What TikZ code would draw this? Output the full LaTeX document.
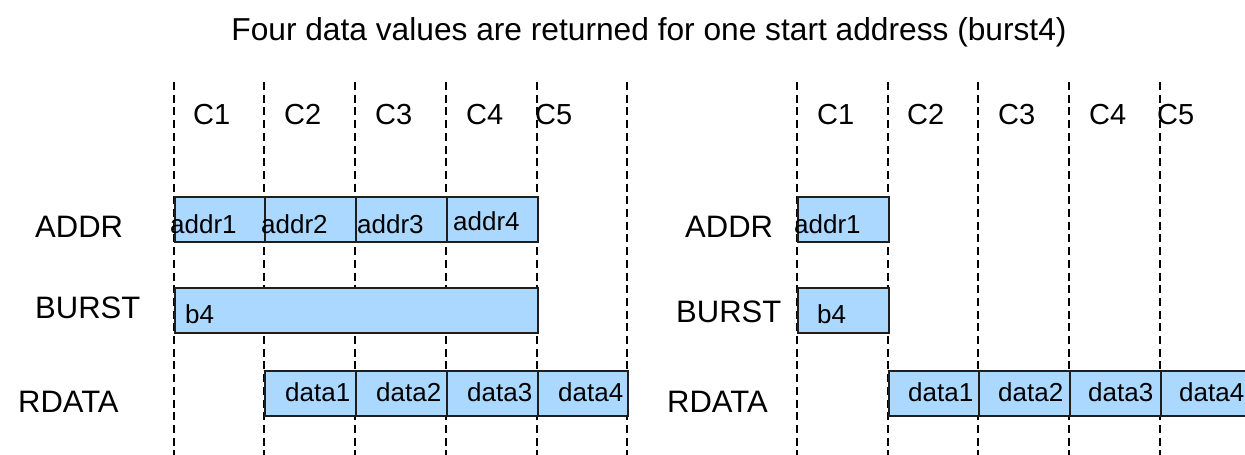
\documentclass[tikz,border=0pt]{standalone}
\usepackage{fontspec}
\setmainfont{Liberation Sans}
\definecolor{boxfill}{RGB}{170,216,255}
\definecolor{boxline}{RGB}{30,30,30}
\begin{document}
\begin{tikzpicture}[x=1pt,y=-1pt,
  grid/.style={draw=black,line width=2.3pt,dash pattern=on 8pt off 4.7pt},
  sbox/.style={draw=boxline,fill=boxfill,line width=1.6pt,inner sep=0pt,minimum height=45pt,anchor=north west},
  btxt/.style={inner sep=0pt,anchor=base west,font=\fontsize{26}{30}\selectfont},
  clab/.style={inner sep=0pt,anchor=base west,font=\fontsize{29}{33}\selectfont},
  rlab/.style={inner sep=0pt,anchor=base west,font=\fontsize{31}{35}\selectfont},
  ttl/.style={inner sep=0pt,anchor=base,font=\fontsize{31.7}{36}\selectfont}]
\useasboundingbox (0,0) rectangle (1245,455);
% title
\node[ttl] (title) at (649,40) {Four data values are returned for one start address (burst4)};
% dashed cycle lines
\foreach \x in {174,264,355,446,537,627,797,888,978,1069,1160}
  \draw[grid] (\x,82) -- (\x,455);
% cycle labels left
\node[clab] (lc1) at (193,124) {C1};
\node[clab] (lc2) at (284,124) {C2};
\node[clab] (lc3) at (375,124) {C3};
\node[clab] (lc4) at (466,124) {C4};
\node[clab] (lc5) at (535,124) {C5};
% cycle labels right
\node[clab] (rc1) at (817,124) {C1};
\node[clab] (rc2) at (907,124) {C2};
\node[clab] (rc3) at (998,124) {C3};
\node[clab] (rc4) at (1089,124) {C4};
\node[clab] (rc5) at (1157,124) {C5};
% row labels
\node[rlab] (laddr) at (35,237) {ADDR};
\node[rlab] (lburst) at (35,318) {BURST};
\node[rlab] (lrdata) at (18,412) {RDATA};
\node[rlab] (raddr) at (685,237) {ADDR};
\node[rlab] (rburst) at (676,322) {BURST};
\node[rlab] (rrdata) at (667,412) {RDATA};
% left boxes
\node[sbox,minimum width=90pt] (la1) at (174,196) {};
\node[sbox,minimum width=91pt] (la2) at (264,196) {};
\node[sbox,minimum width=91pt] (la3) at (355,196) {};
\node[sbox,minimum width=91pt] (la4) at (446,196) {};
\node[sbox,minimum width=363pt] (lb) at (174,287) {};
\node[sbox,minimum width=91pt] (ld1) at (264,370) {};
\node[sbox,minimum width=91pt] (ld2) at (355,370) {};
\node[sbox,minimum width=91pt] (ld3) at (446,370) {};
\node[sbox,minimum width=90pt] (ld4) at (537,370) {};
% right boxes
\node[sbox,minimum width=91pt] (ra1) at (797,196) {};
\node[sbox,minimum width=91pt] (rb) at (797,287) {};
\node[sbox,minimum width=90pt] (rd1) at (888,370) {};
\node[sbox,minimum width=91pt] (rd2) at (978,370) {};
\node[sbox,minimum width=91pt] (rd3) at (1069,370) {};
\node[sbox,minimum width=91pt] (rd4) at (1160,370) {};
% box texts left
\node[btxt] (ta1) at (170,233) {addr1};
\node[btxt] (ta2) at (261,233) {addr2};
\node[btxt] (ta3) at (357,233) {addr3};
\node[btxt] (ta4) at (453,230) {addr4};
\node[btxt] (tb) at (185,323) {b4};
\node[btxt] (td1) at (285,401) {data1};
\node[btxt] (td2) at (376,401) {data2};
\node[btxt] (td3) at (467,401) {data3};
\node[btxt] (td4) at (558,401) {data4};
% box texts right
\node[btxt] (ra1t) at (794,233) {addr1};
\node[btxt] (rbt) at (817,323) {b4};
\node[btxt] (rd1t) at (908,401) {data1};
\node[btxt] (rd2t) at (998,401) {data2};
\node[btxt] (rd3t) at (1088,401) {data3};
\node[btxt] (rd4t) at (1179,401) {data4};
\end{tikzpicture}
\end{document}
